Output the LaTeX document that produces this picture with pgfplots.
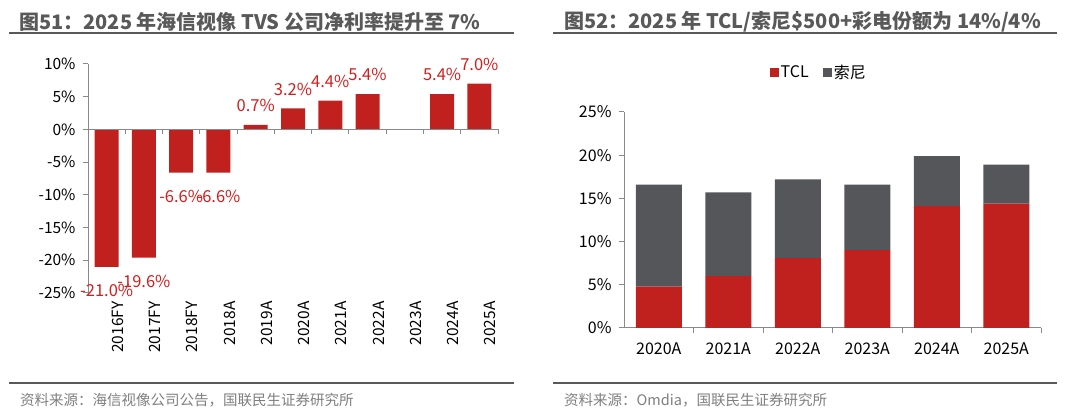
\documentclass[border=0pt]{standalone}
\usepackage{fontspec}
\setmainfont{Noto Sans CJK SC}
\usepackage{pgfplots}
\pgfplotsset{compat=1.18}
\definecolor{barred}{RGB}{192,33,30}
\definecolor{sonygray}{RGB}{84,86,90}
\definecolor{titlegray}{RGB}{89,89,89}
\definecolor{axisgray}{RGB}{137,137,137}
\definecolor{srcgray}{RGB}{127,127,127}
\definecolor{labred}{RGB}{210,30,30}
\newcommand{\fs}[1]{\fontsize{#1}{#1}\selectfont}
\begin{document}
\begin{tikzpicture}
\useasboundingbox (0,0) rectangle (1080bp,416bp);
% titles and rules
\node[anchor=west, text=titlegray, font=\bfseries\fs{20bp}, inner sep=0pt] at (19bp,394bp) {图51：2025 年海信视像 TVS 公司净利率提升至 7\%};
\node[anchor=west, text=titlegray, font=\bfseries\fs{20bp}, inner sep=0pt] at (564bp,394bp) {图52：2025 年 TCL/索尼\$500+彩电份额为 14\%/4\%};
\draw[titlegray, line width=2bp] (9bp,383bp) -- (514bp,383bp);
\draw[titlegray, line width=2bp] (553bp,383bp) -- (1057bp,383bp);
\draw[titlegray, line width=2bp] (9bp,33bp) -- (514bp,33bp);
\draw[titlegray, line width=2bp] (553bp,33bp) -- (1057bp,33bp);
\node[anchor=west, text=srcgray, font=\fs{14.5bp}, inner sep=0pt] at (20bp,16bp) {资料来源：海信视像公司公告，国联民生证券研究所};
\node[anchor=west, text=srcgray, font=\fs{14.5bp}, inner sep=0pt] at (564bp,16bp) {资料来源：Omdia，国联民生证券研究所};

% left chart
\begin{axis}[
  at={(88bp,123bp)}, anchor=south west, scale only axis,
  width=410bp, height=229bp,
  xmin=-0.5, xmax=10.5, ymin=-25, ymax=10,
  axis x line*=bottom, x axis line style={draw=none},
  axis y line*=left, y axis line style={axisgray, line width=1bp},
  ytick={-25,-20,-15,-10,-5,0,5,10},
  yticklabels={-25\%,-20\%,-15\%,-10\%,-5\%,0\%,5\%,10\%},
  ytick style={axisgray, line width=1bp},
  tick align=outside, major tick length=5bp,
  xtick={0,...,10},
  xticklabels={2016FY,2017FY,2018FY,2018A,2019A,2020A,2021A,2022A,2023A,2024A,2025A},
  xtick style={draw=none},
  x tick label style={rotate=90, anchor=east, font=\fs{15.5bp}, yshift=-11bp},
  y tick label style={font=\fs{15.5bp}, xshift=-4bp},
  ybar, bar width=24bp, bar shift=0pt,
  nodes near coords, point meta=explicit symbolic,
  clip=false,
]
\addplot[fill=barred, draw=none,
  nodes near coords style={text=labred, font=\fs{16.5bp}, anchor=north, inner ysep=17bp}] coordinates {
 (0,-21.0) [-21.0\%]
 (1,-19.6) [-19.6\%]
 (2,-6.6) [-6.6\%]
 (3,-6.6) [-6.6\%]
};
\addplot[fill=barred, draw=none,
  nodes near coords style={text=labred, font=\fs{16.5bp}, anchor=south, inner ysep=13bp}] coordinates {
 (4,0.7) [0.7\%]
 (5,3.2) [3.2\%]
 (6,4.4) [4.4\%]
 (7,5.4) [5.4\%]
 (9,5.4) [5.4\%]
 (10,7.0) [7.0\%]
};
\draw[axisgray, line width=1bp] (axis cs:-0.5,0) -- (axis cs:10.5,0);
\pgfplotsinvokeforeach{0.5,1.5,2.5,3.5,4.5,5.5,6.5,7.5,8.5,9.5,10.5}{
  \draw[axisgray, line width=1bp] (axis cs:#1,0) -- ([yshift=-5bp]axis cs:#1,0);
}
\end{axis}

% right chart
\begin{axis}[
  at={(624bp,88bp)}, anchor=south west, scale only axis,
  width=417bp, height=216bp,
  xmin=-0.5, xmax=5.5, ymin=0, ymax=25,
  axis x line*=bottom, axis y line*=left,
  axis line style={axisgray, line width=1bp},
  ytick={0,5,10,15,20,25},
  yticklabels={0\%,5\%,10\%,15\%,20\%,25\%},
  ytick style={axisgray, line width=1bp},
  tick align=outside, major tick length=5bp,
  xtick={0,...,5},
  xticklabels={2020A,2021A,2022A,2023A,2024A,2025A},
  xtick style={draw=none},
  x tick label style={font=\fs{16bp}, yshift=-6bp},
  y tick label style={font=\fs{16bp}, xshift=-4bp},
  ybar stacked, bar width=46bp,
  legend style={at={(0.467,1.185)}, anchor=center, draw=none, fill=none,
    font=\fs{16bp}, legend columns=2,
    /tikz/every even column/.append style={column sep=12bp}},
  legend image code/.code={\fill[#1] (0bp,-4.5bp) rectangle (9bp,4.5bp);},
  clip=false,
]
\addplot[fill=barred, draw=none] coordinates {(0,4.8) (1,6.0) (2,8.1) (3,9.0) (4,14.1) (5,14.4)};
\addplot[fill=sonygray, draw=none] coordinates {(0,11.8) (1,9.7) (2,9.1) (3,7.6) (4,5.8) (5,4.5)};
\legend{TCL,索尼}
\pgfplotsinvokeforeach{0.5,1.5,2.5,3.5,4.5,5.5}{
  \draw[axisgray, line width=1bp] (axis cs:#1,0) -- ([yshift=-5bp]axis cs:#1,0);
}
\end{axis}
\end{tikzpicture}
\end{document}
